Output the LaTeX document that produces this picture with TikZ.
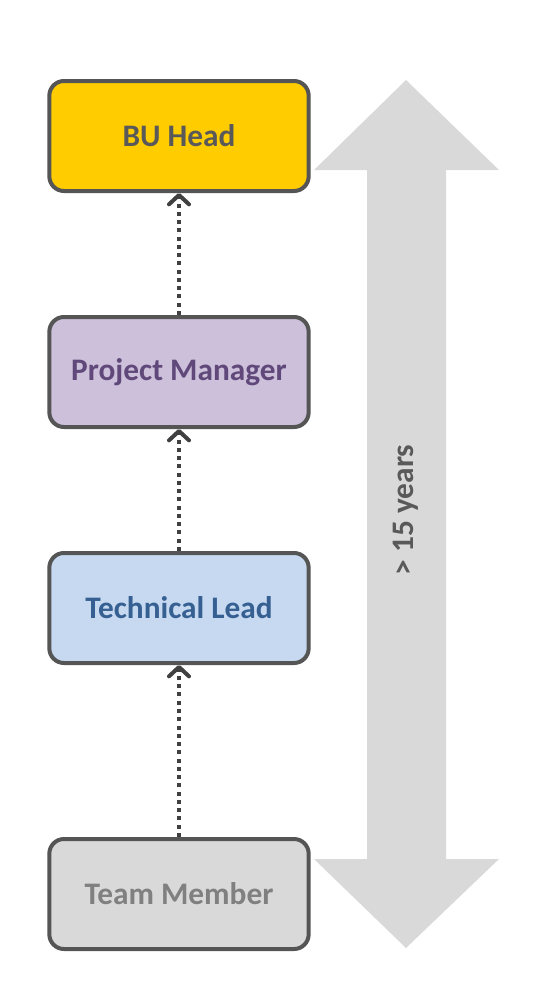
\documentclass[tikz,border=0pt]{standalone}
\usepackage{fontspec}
\setmainfont{Carlito}
\usetikzlibrary{arrows.meta}
\definecolor{bord}{HTML}{555555}
\definecolor{bigarrow}{HTML}{D9D9D9}
\definecolor{buFill}{HTML}{FFCC00}
\definecolor{pmFill}{HTML}{CCC0DA}
\definecolor{pmText}{HTML}{60497A}
\definecolor{tlFill}{HTML}{C6D9F1}
\definecolor{tlText}{HTML}{366092}
\definecolor{tmFill}{HTML}{D9D9D9}
\definecolor{tmText}{HTML}{808080}
\definecolor{darkText}{HTML}{595959}
\definecolor{conn}{HTML}{404040}
\begin{document}
\begin{tikzpicture}[x=0.75pt,y=-0.75pt,
  rolebox/.style={draw=bord,line width=3pt,rounded corners=11pt,minimum width=194.5pt,minimum height=82.5pt,inner sep=0pt,font=\fontsize{23.5}{28}\selectfont\bfseries},
  promo/.style={draw=conn,line width=3pt,dash pattern=on 3pt off 3.2pt,-{Straight Barb[length=7pt,width=15pt,line width=3pt,round]}}]
\useasboundingbox (0,0) rectangle (541,996);
% big double arrow
\fill[bigarrow] (406,80) -- (499,170) -- (446,170) -- (446,859) -- (499,859) -- (406,948) -- (314,859) -- (367,859) -- (367,170) -- (314,170) -- cycle;
\node[rotate=90,text=darkText,font=\fontsize{23.5}{28}\selectfont\bfseries] (yrs) at (406,510) {> 15 years};
\node[rolebox,fill=buFill,text=darkText] (bu) at (179,136) {BU Head};
\node[rolebox,fill=pmFill,text=pmText] (pm) at (179,372) {Project Manager};
\node[rolebox,fill=tlFill,text=tlText] (tl) at (179,608) {Technical Lead};
\node[rolebox,fill=tmFill,text=tmText] (tm) at (179,894) {Team Member};
\draw[promo] (tm.north) -- (tl.south);
\draw[promo] (tl.north) -- (pm.south);
\draw[promo] (pm.north) -- (bu.south);
\end{tikzpicture}
\end{document}
